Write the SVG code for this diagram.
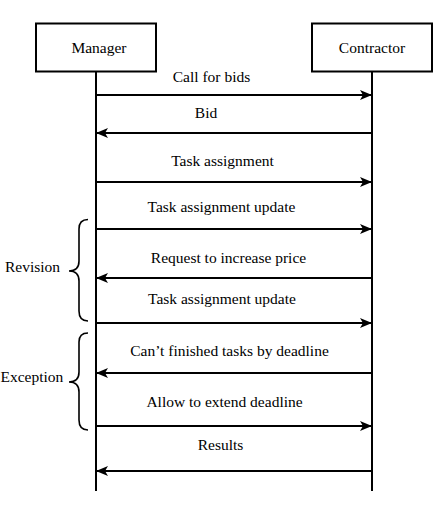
<svg xmlns="http://www.w3.org/2000/svg" width="436" height="512" viewBox="0 0 436 512">
<style>
text{font-family:"Liberation Serif","Times New Roman",serif;font-size:15.5px;fill:#000}
.m{text-anchor:middle}
.box{fill:#fff;stroke:#000;stroke-width:2}
.life{stroke:#000;stroke-width:2;fill:none}
.msg{stroke:#000;stroke-width:2;fill:none}
.brace{stroke:#000;stroke-width:1.6;fill:none}
</style>
<defs>
<marker id="ah" viewBox="0 0 12 10" refX="11" refY="5" markerWidth="12" markerHeight="10" markerUnits="userSpaceOnUse" orient="auto">
<path d="M0,0 L12,5 L0,10 L3,5 Z" fill="#000"/>
</marker>
</defs>
<g id="manager">
<rect class="box" x="36" y="23.5" width="120" height="48"/>
<text class="m" x="99" y="53">Manager</text>
</g>
<g id="contractor">
<rect class="box" x="312" y="23.5" width="120" height="48"/>
<text class="m" x="372" y="53">Contractor</text>
</g>
<g id="lifelines">
<line class="life" x1="96" y1="72" x2="96" y2="491"/>
<line class="life" x1="372" y1="72" x2="372" y2="491"/>
</g>
<g id="connectors">
<line class="msg" x1="96" y1="95" x2="371" y2="95" marker-end="url(#ah)"/>
<line class="msg" x1="372" y1="133" x2="97" y2="133" marker-end="url(#ah)"/>
<line class="msg" x1="96" y1="182" x2="371" y2="182" marker-end="url(#ah)"/>
<line class="msg" x1="96" y1="229" x2="371" y2="229" marker-end="url(#ah)"/>
<line class="msg" x1="372" y1="278" x2="97" y2="278" marker-end="url(#ah)"/>
<line class="msg" x1="96" y1="323" x2="371" y2="323" marker-end="url(#ah)"/>
<line class="msg" x1="372" y1="373" x2="97" y2="373" marker-end="url(#ah)"/>
<line class="msg" x1="96" y1="426" x2="371" y2="426" marker-end="url(#ah)"/>
<line class="msg" x1="372" y1="471" x2="97" y2="471" marker-end="url(#ah)"/>
</g>
<g id="labels">
<text class="m" x="211.5" y="82">Call for bids</text>
<text class="m" x="206" y="118">Bid</text>
<text class="m" x="222.5" y="166">Task assignment</text>
<text class="m" x="221.5" y="212">Task assignment update</text>
<text class="m" x="228.5" y="263">Request to increase price</text>
<text class="m" x="222" y="304">Task assignment update</text>
<text class="m" x="229.5" y="356">Can’t finished tasks by deadline</text>
<text class="m" x="224.5" y="407">Allow to extend deadline</text>
<text class="m" x="220.5" y="450">Results</text>
</g>
<g id="revision">
<path class="brace" d="M88,219.5 Q79,219.5 79,229 L79,261 Q79,271 69,271 Q79,271 79,281 L79,311 Q79,321 88,321"/>
<text x="5" y="272">Revision</text>
</g>
<g id="exception">
<path class="brace" d="M88,333 Q79,333 79,342 L79,372 Q79,382 69,382 Q79,382 79,392 L79,420 Q79,430 88,430"/>
<text x="0.5" y="382">Exception</text>
</g>
</svg>
